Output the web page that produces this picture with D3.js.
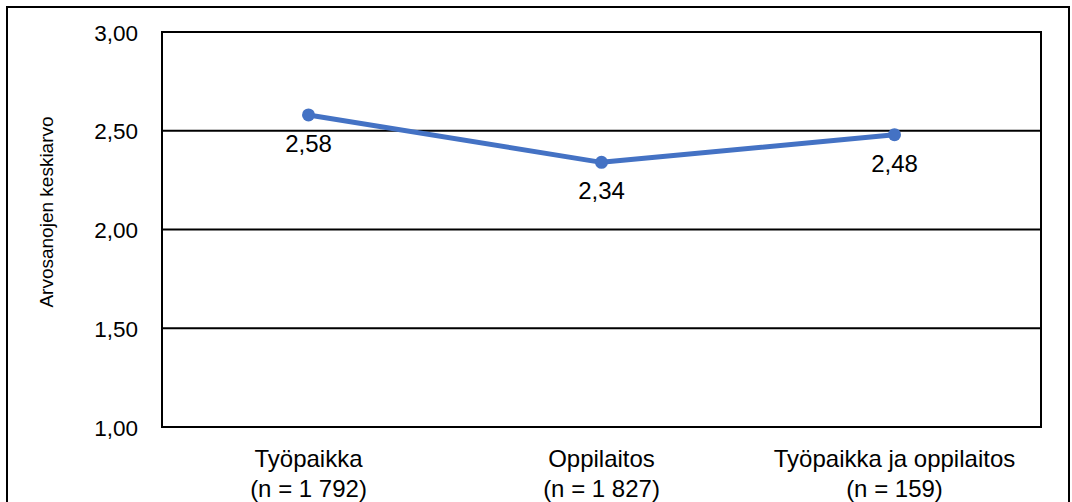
<!DOCTYPE html>
<html>
<head>
<meta charset="utf-8">
<script src="https://cdn.jsdelivr.net/npm/d3@7"></script>
<style>
  body { margin: 0; background: #fff; }
  text { font-family: "Liberation Sans", Arial, sans-serif; fill: #000; }
</style>
</head>
<body>
<script>
// Chart data
var categories = ["Työpaikka", "Oppilaitos", "Työpaikka ja oppilaitos"];
var counts = ["(n = 1 792)", "(n = 1 827)", "(n = 159)"];
var values = [2.58, 2.34, 2.48];
var yTicks = [1.0, 1.5, 2.0, 2.5, 3.0];

var width = 1072,
    height = 502;

var margin = {top: 32, right: 31, bottom: 75, left: 162};

var svg = d3.select("body").append("svg")
    .attr("width", width)
    .attr("height", height);

// outer chart frame
svg.append("rect")
    .attr("x", 7).attr("y", 7)
    .attr("width", 1062).attr("height", 520)
    .attr("fill", "none")
    .attr("stroke", "#000")
    .attr("stroke-width", 2);

var x = d3.scaleBand()
    .domain(categories)
    .range([margin.left, width - margin.right]);

var y = d3.scaleLinear()
    .domain([1, 3])
    .range([height - margin.bottom, margin.top]);

var fmt = function(v) { return d3.format(".2f")(v).replace(".", ","); };

// gridlines
svg.append("g").attr("class", "grid")
  .selectAll("line")
    .data(yTicks)
  .enter().append("line")
    .attr("x1", margin.left)
    .attr("x2", width - margin.right)
    .attr("y1", function(d) { return y(d); })
    .attr("y2", function(d) { return y(d); })
    .attr("stroke", "#000")
    .attr("stroke-width", 2);

// plot box
svg.append("rect")
    .attr("x", margin.left)
    .attr("y", margin.top)
    .attr("width", width - margin.left - margin.right)
    .attr("height", height - margin.top - margin.bottom)
    .attr("fill", "none")
    .attr("stroke", "#000")
    .attr("stroke-width", 2);

// y axis labels
var yAxis = d3.axisLeft(y)
    .tickValues(yTicks)
    .tickSize(0)
    .tickPadding(24)
    .tickFormat(fmt);

svg.append("g")
    .attr("transform", "translate(" + margin.left + ",0)")
    .call(yAxis)
    .call(function(g) { g.select(".domain").remove(); })
    .selectAll("text")
      .attr("dy", "0.36em")
      .style("font-size", "22.5px")
      .style("font-family", "Liberation Sans, Arial, sans-serif");

// y axis title
svg.append("text")
    .attr("transform", "translate(53,212) rotate(-90)")
    .attr("text-anchor", "middle")
    .style("font-size", "19px")
    .text("Arvosanojen keskiarvo");

// category labels
var cat = svg.append("g").attr("class", "categories")
  .selectAll("text")
    .data(categories)
  .enter().append("text")
    .attr("text-anchor", "middle")
    .style("font-size", "24px")
    .attr("x", function(d) { return x(d) + x.bandwidth() / 2; })
    .attr("y", 467);

cat.append("tspan")
    .text(function(d) { return d; });
cat.append("tspan")
    .attr("x", function(d) { return x(d) + x.bandwidth() / 2; })
    .attr("dy", 30)
    .text(function(d, i) { return counts[i]; });

// the line
var line = d3.line()
    .x(function(d, i) { return x(categories[i]) + x.bandwidth() / 2; })
    .y(function(d) { return y(d); });

svg.append("path")
    .datum(values)
    .attr("d", line)
    .attr("fill", "none")
    .attr("stroke", "#4472C4")
    .attr("stroke-width", 5)
    .attr("stroke-linejoin", "round");

svg.append("g").attr("class", "points")
  .selectAll("circle")
    .data(values)
  .enter().append("circle")
    .attr("cx", function(d, i) { return x(categories[i]) + x.bandwidth() / 2; })
    .attr("cy", function(d) { return y(d); })
    .attr("r", 6.5)
    .attr("fill", "#4472C4");

// data labels
svg.append("g").attr("class", "labels")
  .selectAll("text")
    .data(values)
  .enter().append("text")
    .attr("text-anchor", "middle")
    .style("font-size", "24px")
    .attr("x", function(d, i) { return x(categories[i]) + x.bandwidth() / 2; })
    .attr("y", function(d) { return y(d) + 37; })
    .text(fmt);
</script>
</body>
</html>
